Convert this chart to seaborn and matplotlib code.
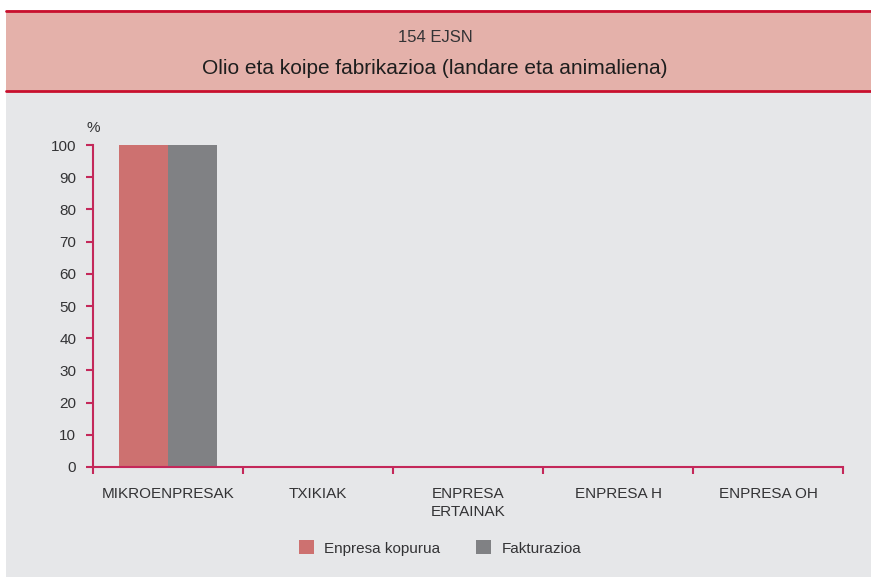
import matplotlib
matplotlib.use("Agg")
import matplotlib.pyplot as plt
from matplotlib.patches import Rectangle
import numpy as np
import pandas as pd
import seaborn as sns

categories = ["MIKROENPRESAK", "TXIKIAK", "ENPRESA\nERTAINAK", "ENPRESA H", "ENPRESA OH"]
series_names = ["Enpresa kopurua", "Fakturazioa"]
enpresa_kopurua = [100, 0, 0, 0, 0]
fakturazioa = [100, 0, 0, 0, 0]
y_ticks = [0, 10, 20, 30, 40, 50, 60, 70, 80, 90, 100]

subtitle = "154 EJSN"
title = "Olio eta koipe fabrikazioa (landare eta animaliena)"

bar_colors = ["#cd7170", "#808184"]
axis_red = "#c4285a"
text_col = "#333335"

df = pd.DataFrame({
    "kategoria": categories * 2,
    "saila": [series_names[0]] * len(categories) + [series_names[1]] * len(categories),
    "balioa": enpresa_kopurua + fakturazioa,
})

sns.set_style("white")
plt.rcParams["font.family"] = ["Liberation Sans", "DejaVu Sans"]

fig = plt.figure(figsize=(8.71, 5.77), dpi=100, facecolor="white")
W, H = 871, 577

# background panels (figure pixels -> fractions)
fig.patches.append(Rectangle((6 / W, 0), 865 / W, (577 - 92) / H, transform=fig.transFigure,
                             facecolor="#e6e7e9", edgecolor="none", zorder=-10))
fig.patches.append(Rectangle((6 / W, (577 - 91) / H), 865 / W, 81 / H, transform=fig.transFigure,
                             facecolor="#e4b1aa", edgecolor="none", zorder=-10))
for yy in (10.5, 91):
    fig.add_artist(plt.Line2D([6 / W, 1], [(577 - yy) / H] * 2, transform=fig.transFigure,
                              color="#c8102e", lw=2, zorder=-5))

fig.text(435 / W, (577 - 37) / H, subtitle, ha="center", va="center", fontsize=12, color=text_col)
fig.text(435 / W, (577 - 68) / H, title, ha="center", va="center", fontsize=15, color="#1e1e1e")

ax = fig.add_axes([93 / W, 110 / H, 750 / W, 322 / H])
ax.set_facecolor("none")
ax.set_zorder(2)

sns.barplot(data=df, x="kategoria", y="balioa", hue="saila", palette=bar_colors,
            width=0.65, gap=0, saturation=1, edgecolor="none", linewidth=0,
            ax=ax, legend=True)

ax.set_xlim(-0.5, len(categories) - 0.5)
ax.set_ylim(0, 100)
ax.set_yticks(y_ticks)
ax.set_xlabel("")
ax.set_ylabel("")

sns.despine(ax=ax, top=True, right=True)
for s in ("left", "bottom"):
    ax.spines[s].set_color(axis_red)
    ax.spines[s].set_linewidth(1.5)

ax.tick_params(axis="y", left=True, colors=axis_red, direction="out", length=5, width=1.5,
               labelcolor=text_col, labelsize=11, pad=7)
ax.tick_params(axis="x", which="major", bottom=False, labelcolor=text_col, labelsize=11, pad=11)
ax.set_xticks(np.arange(-0.5, len(categories)), minor=True)
ax.tick_params(axis="x", which="minor", bottom=True, colors=axis_red, direction="out",
               length=5, width=1.5)
for lab in ax.get_xticklabels():
    lab.set_verticalalignment("top")
    lab.set_linespacing(1.35)

ax.text(0, 1.03, "%", transform=ax.transAxes, ha="center", va="bottom", fontsize=11, color=text_col)

leg = ax.legend(loc="center", bbox_to_anchor=(440 / W, (577 - 548) / H),
                bbox_transform=fig.transFigure, ncol=2, frameon=False, fontsize=11,
                handlelength=1.0, handleheight=1.0, handletextpad=0.7, columnspacing=2.3)
for t in leg.get_texts():
    t.set_color(text_col)

fig.savefig("out.png", dpi=100, facecolor="white")
